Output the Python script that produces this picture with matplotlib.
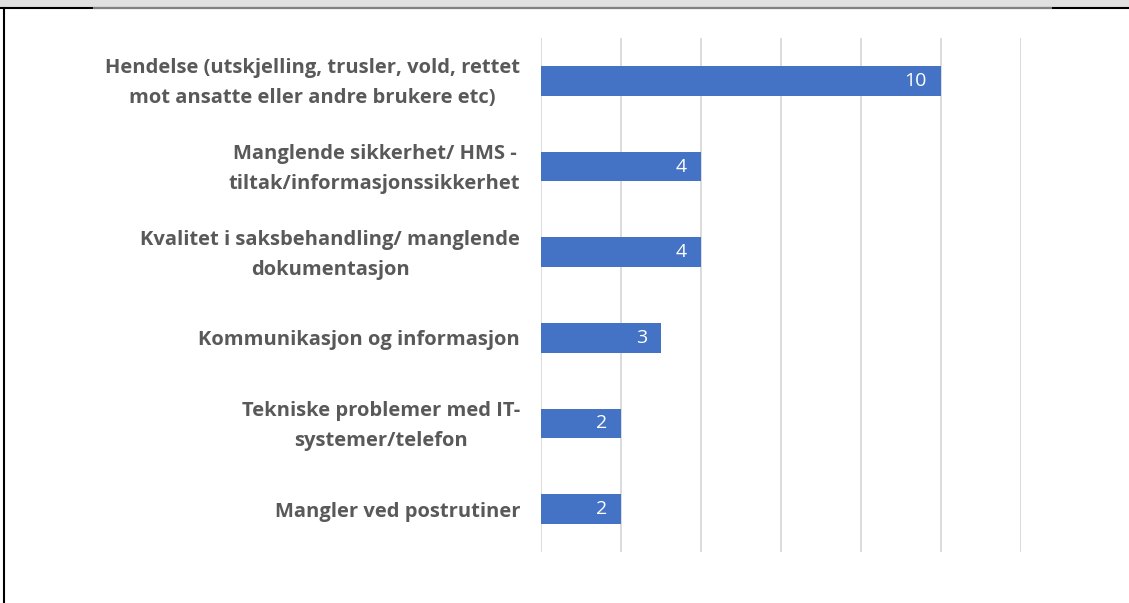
import matplotlib.pyplot as plt
from matplotlib.patches import Rectangle
from matplotlib.lines import Line2D
from matplotlib.transforms import ScaledTranslation

categories = [
    'Hendelse (utskjelling, trusler, vold, rettet\nmot ansatte eller andre brukere etc)',
    'Manglende sikkerhet/ HMS -\ntiltak/informasjonssikkerhet',
    'Kvalitet i saksbehandling/ manglende\ndokumentasjon',
    'Kommunikasjon og informasjon',
    'Tekniske problemer med IT-\nsystemer/telefon',
    'Mangler ved postrutiner',
]
values = [10, 4, 4, 3, 2, 2]

plt.rcParams['font.family'] = ['Open Sans', 'DejaVu Sans']

fig = plt.figure(figsize=(11.29, 6.03), dpi=100)
ax = fig.add_axes([541 / 1129, 1 - 552 / 603, 480 / 1129, 514 / 603])

y = list(range(len(categories)))
bars = ax.barh(y, values, height=0.35, color='#4472C4', zorder=3)
for b, v in zip(bars, values):
    ax.text(b.get_width() - 0.35, b.get_y() + b.get_height() / 2, str(v),
            ha='right', va='center', color='white', fontsize=14, zorder=4)

ax.set_xlim(0, 12)
ax.set_ylim(len(categories) - 0.5, -0.5)
ax.set_xticks(range(0, 13, 2))
ax.xaxis.grid(True, color='#d9d9d9', linewidth=1.3, zorder=0)
ax.tick_params(axis='x', length=0, labelbottom=False)
ax.tick_params(axis='y', length=0, pad=15)
ax.set_yticks(y)
ax.set_yticklabels(categories, fontsize=14.5, fontweight='bold', color='#595959',
                   ha='right', va='center', multialignment='center', linespacing=1.65)
# nudge labels down a few pixels
shift = ScaledTranslation(0, -2.5 / 100, fig.dpi_scale_trans)
for t in ax.get_yticklabels():
    t.set_transform(t.get_transform() + shift)
for s in ax.spines.values():
    s.set_visible(False)

# frame around the chart
fig.patches.append(Rectangle((0, 1 - 8 / 603), 1, 8 / 603, transform=fig.transFigure,
                             facecolor='#e0e0e0', edgecolor='none'))
fig.lines.append(Line2D([0, 1], [1 - 8 / 603] * 2, transform=fig.transFigure,
                        color='black', linewidth=1.5))
fig.lines.append(Line2D([94 / 1129, 1051 / 1129], [1 - 8 / 603] * 2, transform=fig.transFigure,
                        color='#808080', linewidth=1.5))
fig.lines.append(Line2D([3.5 / 1129] * 2, [0, 1 - 8 / 603], transform=fig.transFigure,
                        color='black', linewidth=1.5))

fig.savefig('out.png', dpi=100)
